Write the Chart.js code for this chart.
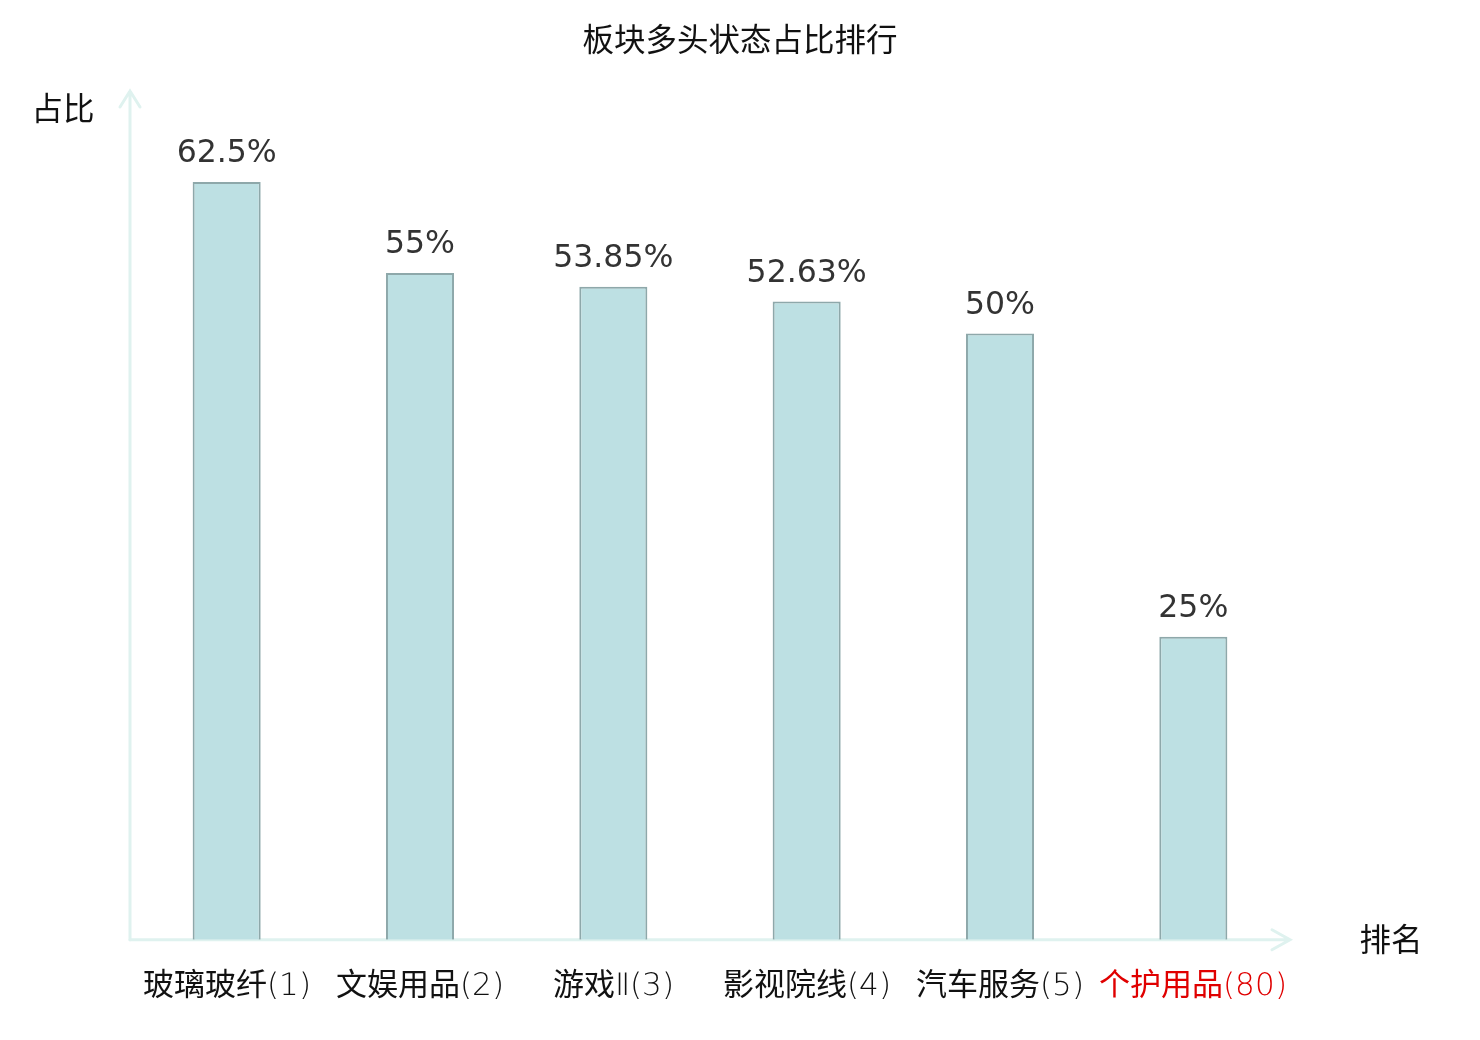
<!DOCTYPE html>
<html>
<head>
<meta charset="utf-8">
<script src="https://cdn.jsdelivr.net/npm/chart.js@4/dist/chart.umd.min.js"></script>
<style>
@font-face {
  font-family: 'TickMix';
  src: local('DejaVu Sans ExtraLight'), local('DejaVuSans-ExtraLight');
  unicode-range: U+0000-00FF, U+2160-216F;
}
@font-face {
  font-family: 'TickMix';
  src: local('Noto Sans CJK SC'), local('NotoSansCJKsc-Regular'), local('Noto Sans CJK SC Regular');
  unicode-range: U+2E80-9FFF, U+FF00-FFEF;
}
html,body{margin:0;padding:0;background:#fff;}
#wrap{width:1480px;height:1040px;}
</style>
</head>
<body>
<div id="wrap"><canvas id="c" width="1480" height="1040"></canvas></div>
<script>
const categories = ['玻璃玻纤(1)', '文娱用品(2)', '游戏Ⅱ(3)', '影视院线(4)', '汽车服务(5)', '个护用品(80)'];
const values = [62.5, 55, 53.85, 52.63, 50, 25];
const valueLabels = ['62.5%', '55%', '53.85%', '52.63%', '50%', '25%'];
const labelColors = ['#111', '#111', '#111', '#111', '#111', '#e00000'];
const titleText = '板块多头状态占比排行';
const yAxisName = '占比';
const xAxisName = '排名';

const FONT = '"DejaVu Sans", "Noto Sans CJK SC", sans-serif';
const TICKFONT = 'TickMix, "DejaVu Sans", "Noto Sans CJK SC", sans-serif';

const decor = {
  id: 'decor',
  beforeDatasetsDraw(chart) {
    const ctx = chart.ctx;
    const a = chart.chartArea;
    ctx.save();
    ctx.strokeStyle = '#dff2ef';
    ctx.lineWidth = 3;
    ctx.lineCap = 'round';
    ctx.beginPath();
    ctx.moveTo(a.left, a.bottom);
    ctx.lineTo(a.left, a.top);
    ctx.moveTo(a.left - 10, a.top + 16);
    ctx.lineTo(a.left, a.top);
    ctx.lineTo(a.left + 10, a.top + 16);
    ctx.stroke();
    ctx.beginPath();
    ctx.moveTo(a.left, a.bottom);
    ctx.lineTo(a.right, a.bottom);
    ctx.moveTo(a.right - 18, a.bottom - 10);
    ctx.lineTo(a.right, a.bottom);
    ctx.lineTo(a.right - 18, a.bottom + 10);
    ctx.stroke();
    ctx.restore();
  },
  afterDatasetsDraw(chart) {
    const ctx = chart.ctx;
    ctx.save();
    ctx.font = '31.5px ' + FONT;
    ctx.textAlign = 'center';
    ctx.textBaseline = 'middle';
    ctx.fillStyle = '#333';
    const meta = chart.getDatasetMeta(0);
    meta.data.forEach((bar, i) => {
      ctx.fillText(valueLabels[i], bar.x, bar.y - 28);
    });
    ctx.fillStyle = '#111';
    ctx.font = '31.5px ' + FONT;
    ctx.fillText(titleText, chart.width / 2, 43);
    ctx.fillText(yAxisName, 63, 112);
    ctx.fillText(xAxisName, 1391, 943);
    ctx.restore();
  }
};

function build() {
  new Chart(document.getElementById('c'), {
    type: 'bar',
    data: {
      labels: categories,
      datasets: [{
        data: values,
        backgroundColor: '#bde0e3',
        borderColor: '#8ea8aa',
        borderWidth: 2,
        barPercentage: 0.352,
        categoryPercentage: 1
      }]
    },
    options: {
      responsive: false,
      animation: false,
      devicePixelRatio: 1,
      layout: { padding: { left: 130, right: 190, top: 91, bottom: 5 } },
      plugins: { legend: { display: false }, tooltip: { enabled: false }, title: { display: false } },
      scales: {
        x: {
          grid: { display: false, drawTicks: false },
          border: { display: false },
          ticks: {
            autoSkip: false, maxRotation: 0, minRotation: 0,
            padding: 29,
            font: { family: TICKFONT, size: 31 },
            color: labelColors
          }
        },
        y: {
          display: false,
          min: 0, max: 70
        }
      }
    },
    plugins: [decor]
  });
}

Promise.race([
  document.fonts.load('31px TickMix', '玻璃(1)Ⅱ'),
  new Promise(r => setTimeout(r, 1500))
]).catch(() => {}).then(build);
</script>
</body>
</html>
